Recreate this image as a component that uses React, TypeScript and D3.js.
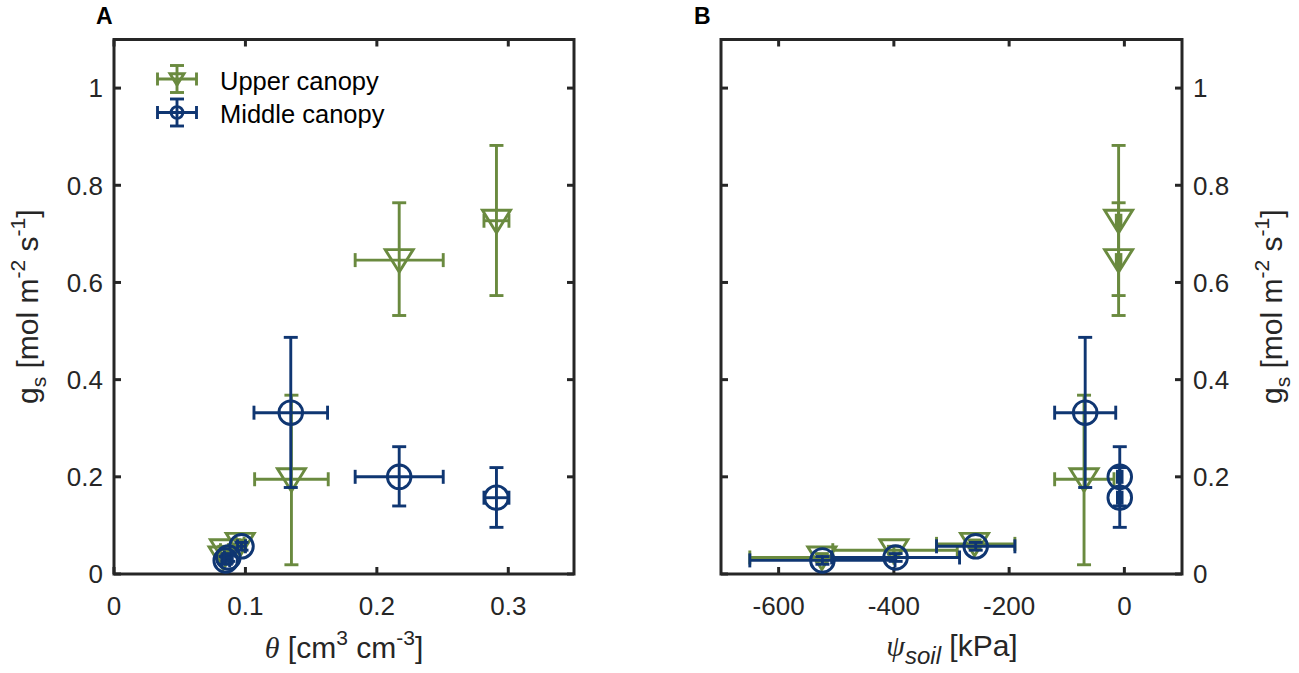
import * as d3 from "d3";

// soil water content / soil water potential vs stomatal conductance
const thetaUpper = [0.083, 0.084, 0.096, 0.135, 0.217, 0.291];
const thetaUpperErr = [0.003, 0.003, 0.003, 0.028, 0.0335, 0.0095];
const psiUpper = [-525, -400, -260, -70, -10, -10];
const psiUpperLo = [-650, -506, -326, -121, -14, -14];
const psiUpperHi = [-400, -290, -190, -18, -6, -6];
const gsUpper = [0.034, 0.049, 0.062, 0.195, 0.646, 0.727];
const gsUpperLo = [0.026, 0.041, 0.054, 0.019, 0.532, 0.573];
const gsUpperHi = [0.042, 0.057, 0.07, 0.368, 0.764, 0.882];

const thetaMiddle = [0.085, 0.087, 0.097, 0.1345, 0.217, 0.291];
const thetaMiddleErr = [0.003, 0.003, 0.003, 0.028, 0.0335, 0.0095];
const psiMiddle = [-524, -397, -258, -68, -8, -8];
const psiMiddleLo = [-650, -508, -326, -121, -12, -12];
const psiMiddleHi = [-398, -286, -190, -15, -4, -4];
const gsMiddle = [0.028, 0.034, 0.057, 0.332, 0.2, 0.157];
const gsMiddleLo = [0.02, 0.026, 0.049, 0.178, 0.14, 0.096];
const gsMiddleHi = [0.036, 0.042, 0.065, 0.487, 0.262, 0.219];

const gsTicks = [0, 0.2, 0.4, 0.6, 0.8, 1];
const thetaTicks = [0, 0.1, 0.2, 0.3];
const psiTicks = [-600, -400, -200, 0];
const legendLabels = ["Upper canopy", "Middle canopy"];

const GREEN = "#6a8a3f";
const NAVY = "#0f3672";
const INK = "#262626";
const SANS = "Arial, 'Liberation Sans', Helvetica, sans-serif";
const SERIF = "'Liberation Serif', 'DejaVu Serif', serif";

const W = 1299;
const H = 673;
const top = 39.5;
const bottom = 574;
const cap = 7;
const TICK_FS = 26;
const LABEL_FS = 30;
const SUP_FS = 21;

const y = d3.scaleLinear().domain([0, 1.1]).range([bottom, top]);
const xA = d3.scaleLinear().domain([0, 0.35]).range([114, 574]);
const xB = d3.scaleLinear().domain([-700, 100]).range([721, 1182]);

const tri = "M-14,-10.5L14,-10.5L0,12Z";

type Pt = { x: number; xl: number; xh: number; y: number; yl: number; yh: number };

function Marker({ kind, cx, cy, s = 1 }: { kind: "tri" | "circ"; cx: number; cy: number; s?: number }) {
  const col = kind === "tri" ? GREEN : NAVY;
  if (kind === "tri")
    return (
      <path d={tri} transform={`translate(${cx},${cy}) scale(${s})`} fill="none" stroke={col}
        strokeWidth={2.9 / s} strokeLinejoin="miter" />
    );
  return <circle cx={cx} cy={cy} r={11.8 * s} fill="none" stroke={col} strokeWidth={2.9} />;
}

function ErrPoint({ p, kind }: { p: Pt; kind: "tri" | "circ" }) {
  const col = kind === "tri" ? GREEN : NAVY;
  return (
    <g stroke={col} strokeWidth={2.9} fill="none">
      <line x1={p.x} x2={p.x} y1={p.yl} y2={p.yh} />
      <line x1={p.x - cap} x2={p.x + cap} y1={p.yl} y2={p.yl} />
      <line x1={p.x - cap} x2={p.x + cap} y1={p.yh} y2={p.yh} />
      <line x1={p.xl} x2={p.xh} y1={p.y} y2={p.y} />
      <line x1={p.xl} x2={p.xl} y1={p.y - cap} y2={p.y + cap} />
      <line x1={p.xh} x2={p.xh} y1={p.y - cap} y2={p.y + cap} />
      <Marker kind={kind} cx={p.x} cy={p.y} />
    </g>
  );
}

function Frame({ x, ticks, labels, yLabelSide }: {
  x: d3.ScaleLinear<number, number>; ticks: number[]; labels: string[]; yLabelSide: "left" | "right";
}) {
  const [x0, x1] = x.range();
  const tl = 7;
  return (
    <g>
      <rect x={x0} y={top} width={x1 - x0} height={bottom - top} fill="none" stroke={INK} strokeWidth={3} />
      {ticks.map((t, i) => (
        <g key={"x" + t}>
          <line x1={x(t)} x2={x(t)} y1={bottom} y2={bottom - tl} stroke={INK} strokeWidth={3} />
          <line x1={x(t)} x2={x(t)} y1={top} y2={top + tl} stroke={INK} strokeWidth={3} />
          <text x={x(t)} y={615} textAnchor="middle" fontSize={TICK_FS} fill={INK} fontFamily={SANS}>{labels[i]}</text>
        </g>
      ))}
      {gsTicks.map((t) => (
        <g key={"y" + t}>
          <line x1={x0} x2={x0 + tl} y1={y(t)} y2={y(t)} stroke={INK} strokeWidth={3} />
          <line x1={x1} x2={x1 - tl} y1={y(t)} y2={y(t)} stroke={INK} strokeWidth={3} />
          <text x={yLabelSide === "left" ? x0 - 11 : x1 + 11} y={y(t)} dy="0.36em"
            textAnchor={yLabelSide === "left" ? "end" : "start"} fontSize={TICK_FS} fill={INK} fontFamily={SANS}>
            {String(t)}
          </text>
        </g>
      ))}
    </g>
  );
}

function GsLabel({ cx }: { cx: number }) {
  return (
    <text transform={`translate(${cx},${(top + bottom) / 2}) rotate(-90)`} textAnchor="middle"
      fontSize={LABEL_FS} fill={INK} fontFamily={SANS}>
      g<tspan fontSize={SUP_FS} dy={8}>s</tspan>
      <tspan dy={-8}> [mol m</tspan>
      <tspan fontSize={SUP_FS} dy={-13}>-2</tspan>
      <tspan dy={13}> s</tspan>
      <tspan fontSize={SUP_FS} dy={-13}>-1</tspan>
      <tspan dy={13}>]</tspan>
    </text>
  );
}

export default function App() {
  const upperA: Pt[] = thetaUpper.map((t, i) => ({
    x: xA(t), xl: xA(t - thetaUpperErr[i]), xh: xA(t + thetaUpperErr[i]),
    y: y(gsUpper[i]), yl: y(gsUpperLo[i]), yh: y(gsUpperHi[i]),
  }));
  const middleA: Pt[] = thetaMiddle.map((t, i) => ({
    x: xA(t), xl: xA(t - thetaMiddleErr[i]), xh: xA(t + thetaMiddleErr[i]),
    y: y(gsMiddle[i]), yl: y(gsMiddleLo[i]), yh: y(gsMiddleHi[i]),
  }));
  const upperB: Pt[] = psiUpper.map((p, i) => ({
    x: xB(p), xl: xB(psiUpperLo[i]), xh: xB(psiUpperHi[i]),
    y: y(gsUpper[i]), yl: y(gsUpperLo[i]), yh: y(gsUpperHi[i]),
  }));
  const middleB: Pt[] = psiMiddle.map((p, i) => ({
    x: xB(p), xl: xB(psiMiddleLo[i]), xh: xB(psiMiddleHi[i]),
    y: y(gsMiddle[i]), yl: y(gsMiddleLo[i]), yh: y(gsMiddleHi[i]),
  }));

  return (
    <svg width={W} height={H} style={{ position: "absolute", left: 0, top: 0, background: "white" }}>
      {/* panel A */}
      <Frame x={xA} ticks={thetaTicks} labels={thetaTicks.map(String)} yLabelSide="left" />
      {upperA.map((p, i) => <ErrPoint key={"ua" + i} p={p} kind="tri" />)}
      {middleA.map((p, i) => <ErrPoint key={"ma" + i} p={p} kind="circ" />)}
      <GsLabel cx={38} />
      <text x={344} y={658} textAnchor="middle" fontSize={LABEL_FS} fill={INK} fontFamily={SANS}>
        <tspan fontFamily={SERIF} fontStyle="italic">θ</tspan> [cm
        <tspan fontSize={SUP_FS} dy={-13}>3</tspan>
        <tspan dy={13}> cm</tspan>
        <tspan fontSize={SUP_FS} dy={-13}>-3</tspan>
        <tspan dy={13}>]</tspan>
      </text>
      <text x={96} y={24} fontSize={23} fontWeight="bold" fill="black" fontFamily={SANS}>A</text>

      {/* legend */}
      {legendLabels.map((lab, i) => {
        const cy = 79 + i * 33.5;
        const cx = 177;
        const col = i === 0 ? GREEN : NAVY;
        return (
          <g key={lab}>
            <g stroke={col} strokeWidth={2.9} fill="none">
              <line x1={cx - 19.5} x2={cx + 19.5} y1={cy} y2={cy} />
              <line x1={cx} x2={cx} y1={cy - 13.5} y2={cy + 13.5} />
              <line x1={cx - 19.5} x2={cx - 19.5} y1={cy - 6.5} y2={cy + 6.5} />
              <line x1={cx + 19.5} x2={cx + 19.5} y1={cy - 6.5} y2={cy + 6.5} />
              <line x1={cx - 7} x2={cx + 7} y1={cy - 13.5} y2={cy - 13.5} />
              <line x1={cx - 7} x2={cx + 7} y1={cy + 13.5} y2={cy + 13.5} />
              <Marker kind={i === 0 ? "tri" : "circ"} cx={cx} cy={cy} s={0.5} />
            </g>
            <text x={220} y={cy + 10.5} fontSize={25.5} fill="black" fontFamily={SANS}>{lab}</text>
          </g>
        );
      })}

      {/* panel B */}
      <Frame x={xB} ticks={psiTicks} labels={psiTicks.map(String)} yLabelSide="right" />
      {upperB.map((p, i) => <ErrPoint key={"ub" + i} p={p} kind="tri" />)}
      {middleB.map((p, i) => <ErrPoint key={"mb" + i} p={p} kind="circ" />)}
      <GsLabel cx={1282} />
      <text x={952} y={656} textAnchor="middle" fontSize={LABEL_FS} fill={INK} fontFamily={SANS}>
        <tspan fontFamily={SERIF} fontStyle="italic">ψ</tspan>
        <tspan fontSize={24} fontStyle="italic" dy={8}>soil</tspan>
        <tspan dy={-8}> [kPa]</tspan>
      </text>
      <text x={694} y={24} fontSize={23} fontWeight="bold" fill="black" fontFamily={SANS}>B</text>
    </svg>
  );
}
